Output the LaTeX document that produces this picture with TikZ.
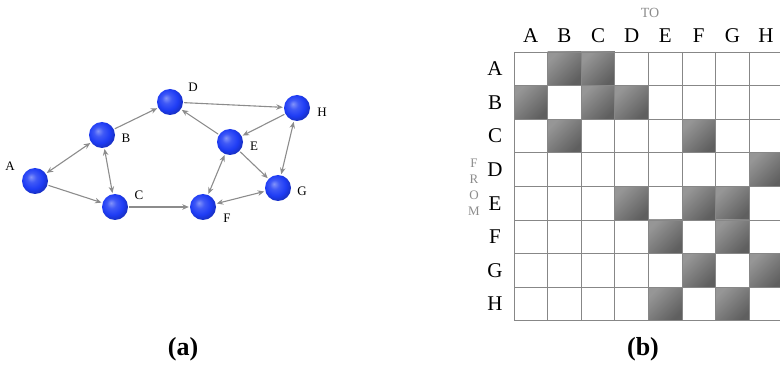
\documentclass[tikz,border=0pt]{standalone}
\usepackage{fontspec}
\setmainfont{Liberation Serif}
\usetikzlibrary{arrows.meta}
\definecolor{edgegray}{RGB}{140,140,140}
\definecolor{gridgray}{RGB}{135,135,135}
\definecolor{cellA}{RGB}{150,150,150}
\definecolor{cellB}{RGB}{95,95,95}
\definecolor{ballblue}{RGB}{30,60,245}
\definecolor{labgray}{RGB}{140,140,140}
\pgfdeclareradialshading{blueball}{\pgfpoint{-8bp}{8bp}}{%
  color(0bp)=(ballblue!55!white);
  color(9bp)=(ballblue!85!white);
  color(20bp)=(ballblue);
  color(28bp)=(ballblue!80!black);
  color(50bp)=(ballblue!60!black)}
\tikzset{
  vtx/.style={circle, minimum size=26pt, inner sep=0pt, shading=blueball},
  vlab/.style={font=\fontsize{13}{13}\selectfont, inner sep=0pt},
  arr/.style={draw=edgegray, line width=1.1pt, -{Stealth[length=6.5pt,width=5.5pt]}, shorten >=1pt, shorten <=1pt},
  barr/.style={draw=edgegray, line width=1.1pt, {Stealth[length=6.5pt,width=5.5pt]}-{Stealth[length=6.5pt,width=5.5pt]}, shorten >=1pt, shorten <=1pt},
  mlab/.style={font=\fontsize{21}{21}\selectfont, inner sep=0pt},
  dcell/.style={top color=cellA, bottom color=cellB, shading angle=45},
  captext/.style={font=\fontsize{26}{26}\selectfont\bfseries, inner sep=0pt}
}
\begin{document}
\begin{tikzpicture}[x=1pt,y=-1pt]
\useasboundingbox (0,0) rectangle (780,366);
% graph
\node[vtx] (A) at (35,181) {};
\node[vtx] (B) at (102,135) {};
\node[vtx] (C) at (115,207) {};
\node[vtx] (D) at (170,102) {};
\node[vtx] (E) at (230,142) {};
\node[vtx] (F) at (203,207) {};
\node[vtx] (G) at (278,188) {};
\node[vtx] (H) at (297,108) {};
\node[vlab] (lA) at (10,166) {A};
\node[vlab] (lB) at (126,138) {B};
\node[vlab] (lC) at (139,195) {C};
\node[vlab] (lD) at (193,87) {D};
\node[vlab] (lE) at (254,146) {E};
\node[vlab] (lF) at (227,218) {F};
\node[vlab] (lG) at (302,191) {G};
\node[vlab] (lH) at (322,112) {H};
\draw[barr] (A) -- (B);
\draw[arr] (A) -- (C);
\draw[barr] (B) -- (C);
\draw[arr] (B) -- (D);
\draw[arr] (D) -- (H);
\draw[arr] (E) -- (D);
\draw[arr] (H) -- (E);
\draw[arr] (E) -- (G);
\draw[barr] (H) -- (G);
\draw[barr] (E) -- (F);
\draw[barr] (F) -- (G);
\draw[arr] (C) -- (F);
% matrix
\begin{scope}
\clip (0,0) rectangle (780,366);
\foreach \r/\c in {0/1,0/2,1/0,1/2,1/3,2/1,2/5,3/7,4/3,4/5,4/6,5/4,5/6,6/5,6/7,7/4,7/6}{
  \path[dcell] ({514+33.6*\c},{52+33.6*\r}) rectangle ++(33.6,33.6);
}
\foreach \i in {0,...,8}{
  \draw[gridgray, line width=0.9pt] ({514+33.6*\i},52) -- ({514+33.6*\i},{52+33.6*8});
  \draw[gridgray, line width=0.9pt] (514,{52+33.6*\i}) -- ({514+33.6*8},{52+33.6*\i});
}
\end{scope}
\foreach \l [count=\k from 0] in {A,B,C,D,E,F,G,H}{
  \node[mlab] (col\l) at ({530.8+33.6*\k},36) {\l};
  \node[mlab] (row\l) at (495,{68.8+33.6*\k}) {\l};
}
\node[font=\fontsize{14}{14}\selectfont, text=labgray, inner sep=0pt] (to) at (650,13) {TO};
\node[font=\fontsize{13}{16}\selectfont, text=labgray, inner sep=0pt, align=center] (from) at (474,187) {F\\R\\O\\M};
% captions
\node[captext] (capa) at (183,349) {(a)};
\node[captext] (capb) at (643,349) {(b)};
\end{tikzpicture}
\end{document}
